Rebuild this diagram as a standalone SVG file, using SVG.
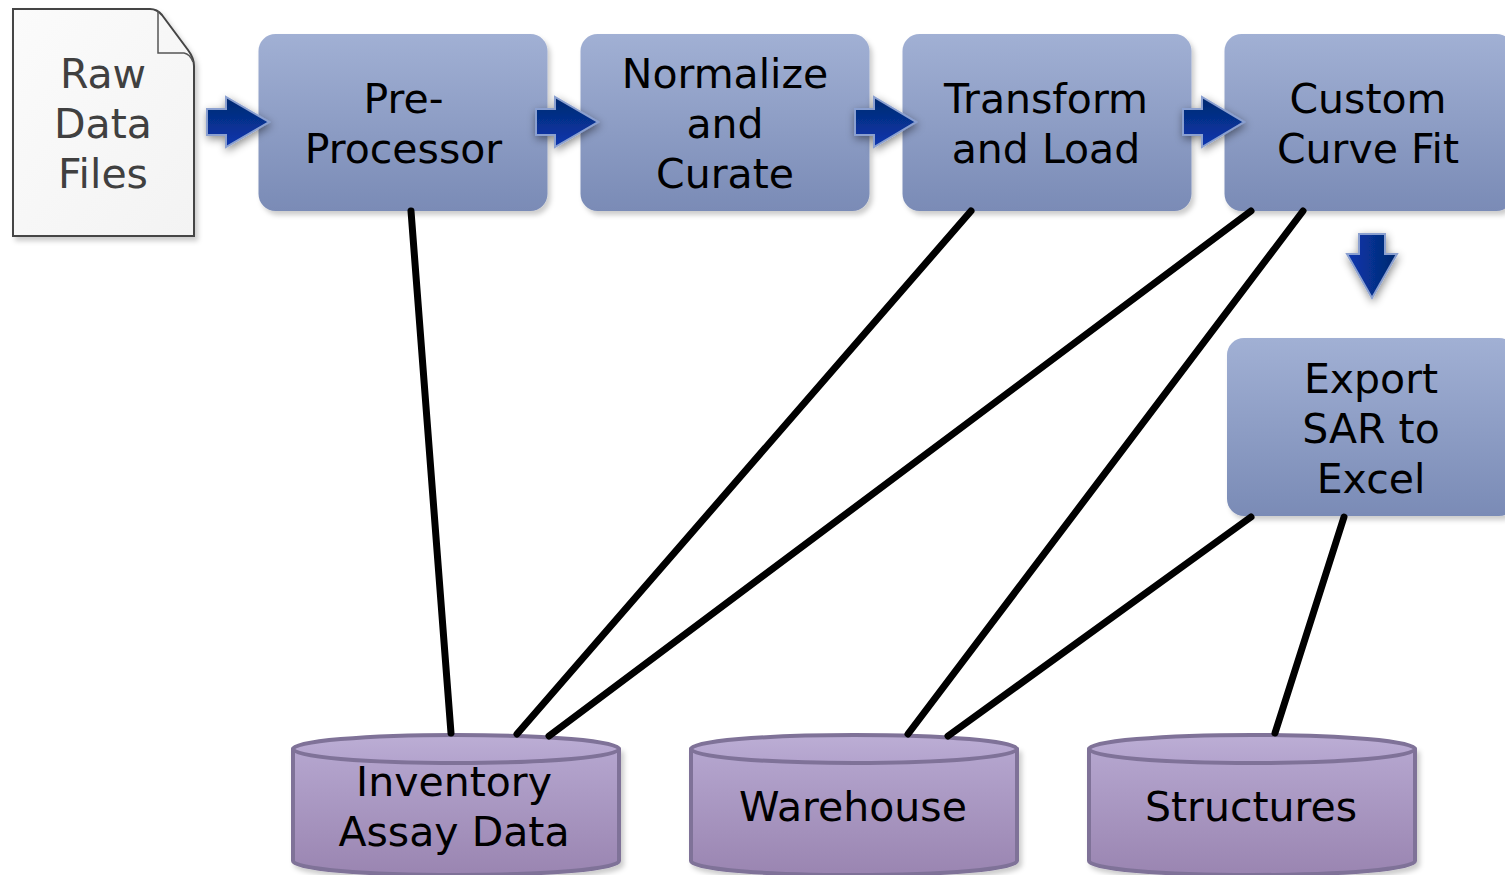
<svg xmlns="http://www.w3.org/2000/svg" width="1505" height="875" viewBox="0 0 1505 875">
<style>
text{font-family:"DejaVu Sans",Verdana,sans-serif;font-size:41px;text-anchor:middle;fill:#000}
.doc text{fill:#404040}
.box{fill:url(#bg);filter:url(#sh)}
.ar{fill:url(#ah);stroke:#8ba0d0;stroke-width:2;filter:url(#sa)}
.ard{fill:url(#av);stroke:#8ba0d0;stroke-width:2;filter:url(#sa)}
.cb{fill:url(#pg);stroke:#7f7298;stroke-width:4;stroke-linejoin:round;filter:url(#sh)}
.ct{fill:url(#pt);stroke:#7f7298;stroke-width:4}
#connectors line{stroke:#000;stroke-width:7;stroke-linecap:round}
</style>
<defs>
<linearGradient id="bg" x1="0" y1="0" x2="0" y2="1"><stop offset="0" stop-color="#a1b0d4"/><stop offset="1" stop-color="#7a8bb6"/></linearGradient>
<linearGradient id="pg" x1="0" y1="0" x2="0" y2="1"><stop offset="0" stop-color="#b5a6cf"/><stop offset="1" stop-color="#9a85b1"/></linearGradient>
<linearGradient id="pt" x1="0" y1="0" x2="0" y2="1"><stop offset="0" stop-color="#bcaed5"/><stop offset="1" stop-color="#b3a3cd"/></linearGradient>
<linearGradient id="ah" x1="0" y1="0" x2="0" y2="1"><stop offset="0" stop-color="#032a6e"/><stop offset="1" stop-color="#0a36b0"/></linearGradient>
<linearGradient id="av" x1="1" y1="0" x2="0" y2="0"><stop offset="0" stop-color="#032a6e"/><stop offset="1" stop-color="#0a36b0"/></linearGradient>
<linearGradient id="dg" x1="0" y1="0" x2="1" y2="1"><stop offset="0" stop-color="#fbfbfb"/><stop offset="1" stop-color="#f3f3f3"/></linearGradient>
<filter id="sh" x="-5%" y="-5%" width="112%" height="115%"><feDropShadow dx="3" dy="4" stdDeviation="2.5" flood-color="#000" flood-opacity="0.2"/></filter>
<filter id="sa" x="-40%" y="-40%" width="190%" height="190%"><feDropShadow dx="1" dy="3" stdDeviation="4" flood-color="#000" flood-opacity="0.45"/></filter>
</defs>
<g id="raw-data-files" class="doc">
<path d="M13 9H150Q157 9 162 15L188 50Q194 58 194 66V236H13Z" fill="url(#dg)" stroke="#444" stroke-width="2" filter="url(#sh)"/>
<path d="M158 11V53H184Q190 54 193 62" fill="none" stroke="#555" stroke-width="1.5"/>
<text x="103" y="88">Raw</text><text x="103" y="138">Data</text><text x="103" y="188">Files</text>
</g>
<g id="pre-processor"><rect class="box" x="258.500" y="34" width="289" height="177" rx="17"/><text x="403.500" y="113">Pre-</text><text x="403.500" y="163">Processor</text></g>
<g id="normalize"><rect class="box" x="580.500" y="34" width="289" height="177" rx="17"/><text x="725" y="88">Normalize</text><text x="725" y="138">and</text><text x="725" y="188">Curate</text></g>
<g id="transform"><rect class="box" x="902.500" y="34" width="289" height="177" rx="17"/><text x="1046" y="113">Transform</text><text x="1046" y="163">and Load</text></g>
<g id="custom-curve-fit"><rect class="box" x="1224.500" y="34" width="289" height="177" rx="17"/><text x="1368" y="113">Custom</text><text x="1368" y="163">Curve Fit</text></g>
<g id="export-sar"><rect class="box" x="1227" y="338" width="289" height="178" rx="17"/><text x="1371" y="393">Export</text><text x="1371" y="443">SAR to</text><text x="1371" y="493">Excel</text></g>
<g id="flow-arrows">
<path class="ar" d="M207 109H226V97L269 122L226 147V135H207Z"/>
<path class="ar" d="M536 109H555V97L598 122L555 147V135H536Z"/>
<path class="ar" d="M855 109H874V97L916 122L874 147V135H855Z"/>
<path class="ar" d="M1183 109H1202V97L1244 122L1202 147V135H1183Z"/>
<path class="ard" d="M1359 234H1385V254H1397L1372 298L1347 254H1359Z"/>
</g>
<g id="inventory"><path class="cb" d="M293 749V861C293 869 365 875 456 875S619 869 619 861V749Z"/><ellipse class="ct" cx="456" cy="749" rx="163" ry="14"/><text x="454" y="796">Inventory</text><text x="454" y="846">Assay Data</text></g>
<g id="warehouse"><path class="cb" d="M691 749V861C691 869 763 875 854 875S1017 869 1017 861V749Z"/><ellipse class="ct" cx="854" cy="749" rx="163" ry="14"/><text x="853" y="821">Warehouse</text></g>
<g id="structures"><path class="cb" d="M1089 749V861C1089 869 1161 875 1252 875S1415 869 1415 861V749Z"/><ellipse class="ct" cx="1252" cy="749" rx="163" ry="14"/><text x="1251" y="821">Structures</text></g>
<g id="connectors">
<line x1="411" y1="211" x2="451" y2="733"/>
<line x1="971" y1="211" x2="517" y2="734"/>
<line x1="1251" y1="211" x2="549" y2="736"/>
<line x1="1303" y1="211" x2="908" y2="734"/>
<line x1="1251" y1="517" x2="948" y2="736"/>
<line x1="1344" y1="517" x2="1275" y2="733"/>
</g>
</svg>
